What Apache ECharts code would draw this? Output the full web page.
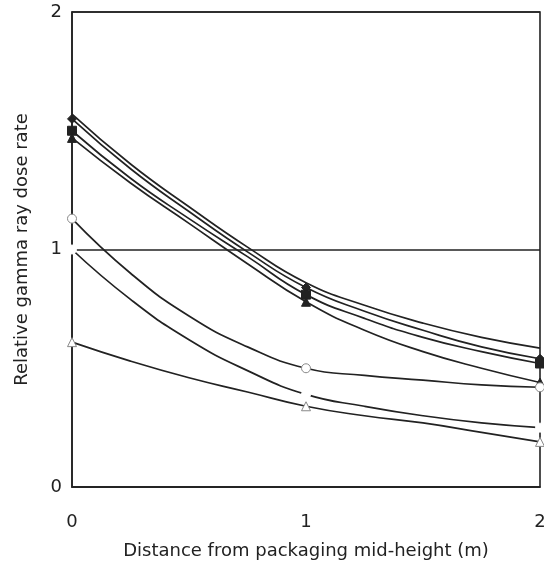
<!DOCTYPE html>
<html><head><meta charset="utf-8">
<script src="https://cdn.jsdelivr.net/npm/echarts@6/dist/echarts.min.js"></script>
<style>html,body{margin:0;padding:0;background:#fff}#c{width:544px;height:566px}</style>
</head><body><div id="c"></div>
<script>
const xs = [0, 0.25, 0.5, 0.75, 1, 1.25, 1.5, 1.75, 2];
const curveA = [1.57, 1.36, 1.18, 1.01, 0.86, 0.765, 0.69, 0.63, 0.585];
const curveB = [1.55, 1.34, 1.16, 0.99, 0.84, 0.74, 0.66, 0.59, 0.54];
const curveC = [1.50, 1.30, 1.13, 0.97, 0.81, 0.71, 0.63, 0.57, 0.52];
const curveD = [1.47, 1.28, 1.11, 0.94, 0.78, 0.66, 0.57, 0.50, 0.44];
const curveE = [1.13, 0.90, 0.72, 0.59, 0.50, 0.47, 0.45, 0.43, 0.42];
const curveF = [1.00, 0.79, 0.62, 0.49, 0.39, 0.34, 0.30, 0.27, 0.25];
const curveG = [0.61, 0.53, 0.46, 0.40, 0.34, 0.30, 0.27, 0.23, 0.19];
const xTicks = ['0', '1', '2'];
const yTicks = ['0', '1', '2'];

const ink = '#222';
function mk(vals, symbol, fill, border, size) {
  return {
    type: 'line', smooth: true,
    data: xs.map((x, i) => [x, vals[i]]),
    symbol: symbol,
    showAllSymbol: true,
    symbolSize: v => (v[0] % 1 === 0 ? size : 0),
    itemStyle: { color: fill, borderColor: border, borderWidth: 1 },
    lineStyle: { color: ink, width: 1.7 },
    emphasis: { disabled: true },
    z: 3
  };
}
const chart = echarts.init(document.getElementById('c'), null, { renderer: 'canvas' });
const font = 'DejaVu Sans, Verdana, sans-serif';
chart.setOption({
  animation: false,
  grid: { left: 72, right: 4, top: 12, bottom: 79, show: true, borderColor: ink, borderWidth: 1.6,
          containLabel: false, outerBoundsMode: 'none' },
  xAxis: {
    type: 'value', min: 0, max: 2, interval: 1,
    name: 'Distance from packaging mid-height (m)', nameLocation: 'middle', nameGap: 55,
    nameTextStyle: { fontFamily: font, fontSize: 18, color: ink },
    axisLine: { lineStyle: { color: ink, width: 1.6 } },
    axisTick: { show: false }, splitLine: { show: false },
    axisLabel: { fontFamily: font, fontSize: 18, color: ink, margin: 26, formatter: v => xTicks[Math.round(v)] }
  },
  yAxis: {
    type: 'value', min: 0, max: 2, interval: 1,
    name: 'Relative gamma ray dose rate', nameLocation: 'middle', nameGap: 41,
    nameTextStyle: { fontFamily: font, fontSize: 18, color: ink },
    axisLine: { lineStyle: { color: ink, width: 1.6 } },
    axisTick: { show: false },
    splitLine: { show: true, lineStyle: { color: ink, width: 1.6 } },
    axisLabel: { fontFamily: font, fontSize: 18, color: ink, margin: 10, formatter: v => yTicks[Math.round(v)] }
  },
  series: [
    mk(curveA, 'none', ink, ink, 0),
    mk(curveB, 'diamond', ink, ink, 9),
    mk(curveC, 'rect', ink, ink, 9),
    mk(curveD, 'triangle', ink, ink, 9),
    mk(curveE, 'circle', '#fff', '#888', 9),
    mk(curveF, 'circle', '#fff', '#fff', 9),
    mk(curveG, 'triangle', '#fff', '#888', 9)
  ]
});
</script></body></html>
